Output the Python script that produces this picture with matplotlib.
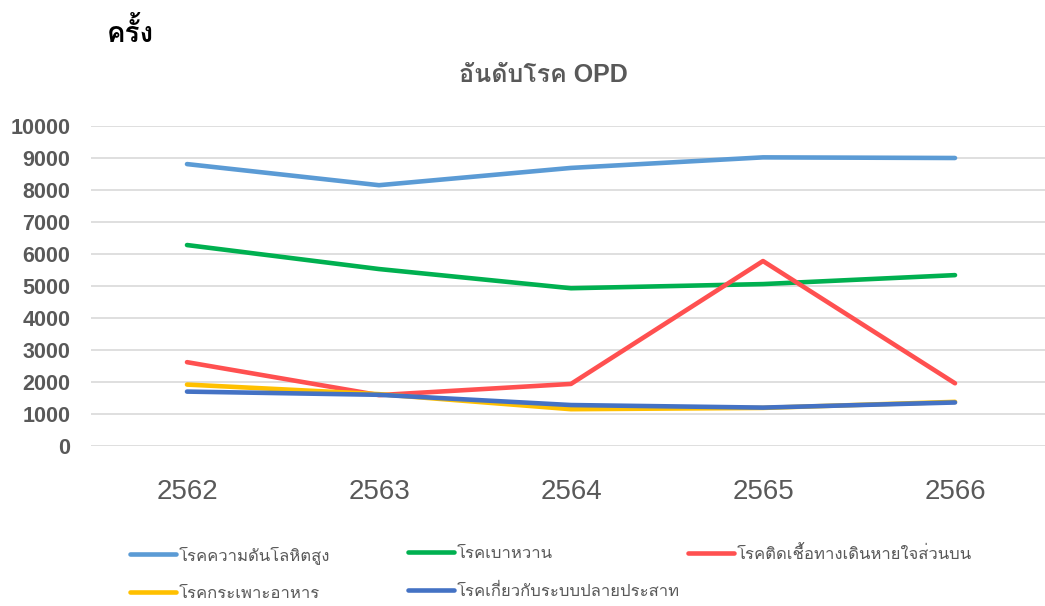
import matplotlib
matplotlib.use("Agg")
import matplotlib.pyplot as plt
from matplotlib import font_manager, ft2font

years = ["2562", "2563", "2564", "2565", "2566"]
hypertension = [8810, 8150, 8690, 9020, 9000]
diabetes = [6280, 5530, 4930, 5060, 5340]
uri = [2620, 1590, 1940, 5780, 1960]
gastritis = [1920, 1620, 1150, 1190, 1380]
neuro = [1700, 1600, 1280, 1200, 1360]

names = ["โรคความดันโลหิตสูง", "โรคเบาหวาน", "โรคติดเชื้อทางเดินหายใจส่วนบน",
         "โรคกระเพาะอาหาร", "โรคเกี่ยวกับระบบปลายประสาท"]
colors = ["#5B9BD5", "#00B050", "#FF5050", "#FFC000", "#4472C4"]
series = [hypertension, diabetes, uri, gastritis, neuro]

# find any installed font that has Thai glyphs
thai = []
for f in font_manager.fontManager.ttflist:
    try:
        if 0x0E04 in ft2font.FT2Font(f.fname).get_charmap() and f.name not in thai:
            thai.append(f.name)
    except Exception:
        pass
thai_fam = thai[:1] + ["DejaVu Sans"]

grey = "#595959"
fig = plt.figure(figsize=(10.45, 6.06), dpi=100)
ax = fig.add_axes([91/1045, 1-446/606, 1-91/1045, 320/606])

x = range(len(years))
lines = []
for vals, c, n in zip(series, colors, names):
    l, = ax.plot(x, vals, color=c, lw=3.3, solid_capstyle="round",
                 solid_joinstyle="round", label=n)
    lines.append(l)

ax.set_xlim(-0.5, (1045-91)/192 - 0.5)
ax.set_ylim(0, 10000)
ax.set_yticks(range(0, 10001, 1000))
ax.set_xticks(list(x))
ax.set_xticklabels(years, family=["Liberation Sans Narrow", "Liberation Sans"],
                   fontsize=20, color=grey)
ax.set_yticklabels([str(v) for v in range(0, 10001, 1000)],
                   family="Liberation Sans", fontweight="bold",
                   fontsize=15.5, color=grey)
ax.tick_params(length=0)
ax.tick_params(axis="x", pad=24)
ax.tick_params(axis="y", pad=15)
ax.grid(axis="y", color="#D9D9D9", lw=1.2)
ax.set_axisbelow(True)
for s in ax.spines.values():
    s.set_visible(False)

fig.text(543/1045, 1-75/606, "อันดับโรค OPD", ha="center", va="center",
         family=["Liberation Sans"] + thai_fam, fontweight="bold",
         fontsize=18, color=grey)
fig.text(107/1045, 1-32/606, "ครั้ง", ha="left", va="center",
         family=thai_fam, fontweight="bold", fontsize=20, color="black")

# three legend columns, evenly spaced like the original
cols = [[0, 3], [1, 4], [2]]
xs = [115, 393, 673]
for idx, xp in zip(cols, xs):
    leg = fig.legend([lines[i] for i in idx], [names[i] for i in idx],
                     loc="upper left", bbox_to_anchor=(xp/1045, 1-531/606),
                     frameon=False, ncol=1, handlelength=2.75, handletextpad=0.2,
                     labelspacing=1.3, prop={"family": thai_fam, "size": 12})
    for t in leg.get_texts():
        t.set_color(grey)

fig.savefig("out.png", dpi=100)
